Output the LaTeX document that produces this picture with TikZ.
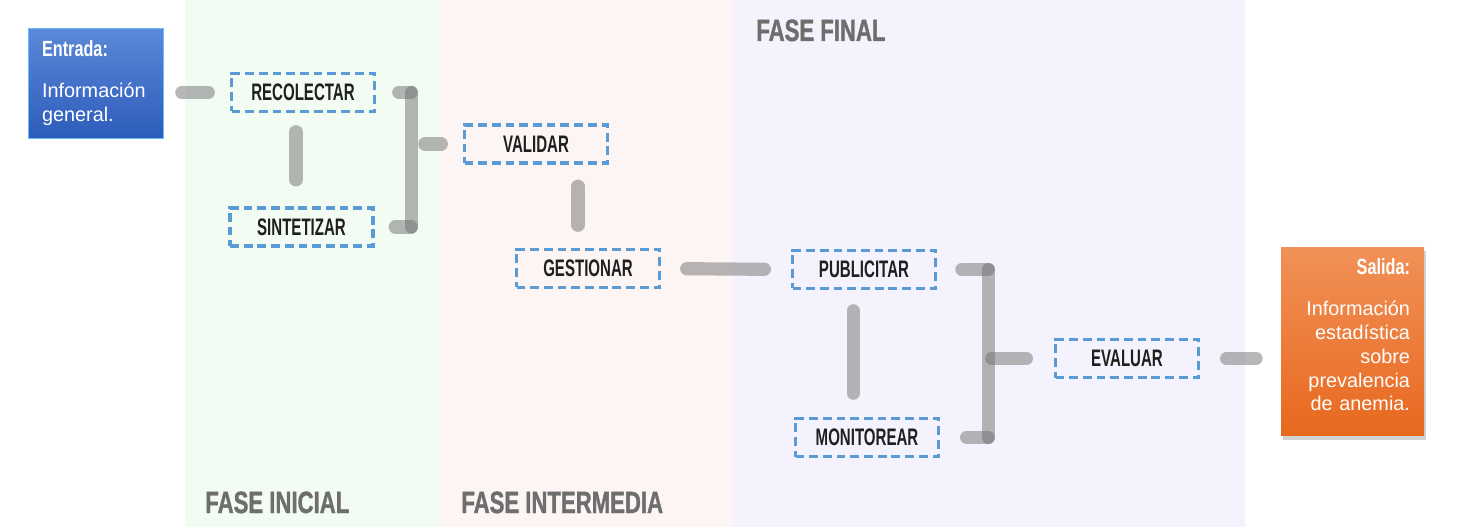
\documentclass[tikz,border=0pt]{standalone}
\usepackage{fontspec}
\setmainfont{Liberation Sans}
\newfontfamily\condfont[FakeStretch=0.63]{Liberation Sans}
\newfontfamily\titfont[FakeStretch=0.74]{Liberation Sans}
\newfontfamily\fasefont[FakeStretch=0.72, FakeBold=1.2]{Liberation Sans}
\usetikzlibrary{positioning,calc,shadows}

\definecolor{azulguion}{HTML}{5B9BD5}
\definecolor{grisfase}{HTML}{6E6E6E}
\definecolor{grisconector}{HTML}{707070}
\definecolor{verdefase}{HTML}{F3FCF3}
\definecolor{rosafase}{HTML}{FDF5F4}
\definecolor{lilafase}{HTML}{F4F3FD}

\begin{document}
\begin{tikzpicture}[
    x=0.02cm, y=-0.02cm,
    font=\fontsize{11.3}{13.6}\selectfont,
    paso/.style={draw=azulguion, line width=2pt, dash pattern=on 5pt off 2.8pt,
                 minimum width=2.86cm, minimum height=0.76cm, inner sep=0pt,
                 font=\condfont\bfseries\fontsize{13.6}{15}\selectfont, text=black!88},
    extremo/.style={text=white, inner xsep=0.28cm, inner ysep=0pt},
    fase/.style={anchor=base west, inner sep=0pt, text=grisfase,
                 font=\fasefont\bfseries\fontsize{17.5}{19}\selectfont},
    conector/.style={line width=7.5pt, line cap=round, draw=grisconector, draw opacity=0.5}
]
\useasboundingbox (0,0) rectangle (1466,527);

% franjas de las tres fases
\fill[verdefase] (185,0) rectangle (440,527);
\fill[rosafase]  (440,0) rectangle (733,527);
\fill[lilafase]  (733,0) rectangle (1245,527);

\node[fase] (fini) at (205,513) {FASE INICIAL};
\node[fase] (fint) at (461,513) {FASE INTERMEDIA};
\node[fase] (ffin) at (756,41)  {FASE FINAL};

% entrada y salida
\node[extremo, draw=blue!45!cyan!60, top color={rgb,255:red,92;green,136;blue,216},
      bottom color={rgb,255:red,45;green,92;blue,187},
      minimum width=2.7cm, minimum height=2.2cm, text width=2.14cm, align=left]
      (entrada) at (95.5,83)
      {{\titfont\bfseries\fontsize{12.5}{13.6}\selectfont Entrada:}\\[9.6pt]Informaci\'on\\general.};
\node[extremo, top color={rgb,255:red,241;green,145;blue,88},
      bottom color={rgb,255:red,232;green,104;blue,30},
      drop shadow={opacity=0.35, shadow xshift=1pt, shadow yshift=-2pt},
      minimum width=2.86cm, minimum height=3.78cm, text width=2.3cm, align=right]
      (salida) at (1352.5,341.5)
      {{\titfont\bfseries\fontsize{12.5}{13.6}\selectfont Salida:}\\[9.6pt]Informaci\'on\\estad\'istica\\sobre\\prevalencia\\de anemia.\\[-6pt]\mbox{}};

% pasos del proceso
\node[paso] (recolectar) at (303,92.5)  {RECOLECTAR};
\node[paso] (sintetizar) at (301.5,227) {SINTETIZAR};
\node[paso] (validar)    at (536,144)   {VALIDAR};
\node[paso] (gestionar)  at (588,268.5) {GESTIONAR};
\node[paso] (publicitar) at (864,269.5) {PUBLICITAR};
\node[paso] (monitorear) at (867,437.5) {MONITOREAR};
\node[paso] (evaluar)    at (1127,358.5) {EVALUAR};

% conectores de la fase inicial
\draw[conector, shorten <=10.5pt, shorten >=12.2pt] (entrada.east |- recolectar.west) -- (recolectar.west);
\coordinate (ejeRS) at ([xshift=-4pt]recolectar.south);
\draw[conector, shorten <=10.5pt, shorten >=15pt] (ejeRS) -- (ejeRS |- sintetizar.north);

% bus que junta recolectar y sintetizar hacia validar
\coordinate (businiA) at ($(recolectar.east)+(35,0)$);
\coordinate (businiB) at (businiA |- sintetizar.east);
\draw[conector, shorten <=12.8pt] (recolectar.east) -- (businiA);
\draw[conector, shorten <=11.7pt] (sintetizar.east) -- (businiB);
\draw[conector] (businiA) -- (businiB);
\draw[conector, shorten <=7.7pt, shorten >=12.2pt] (businiA |- validar.west) -- (validar.west);

% fase intermedia
\coordinate (ejeVG) at ([xshift=-5.7pt]gestionar.north);
\draw[conector, shorten <=12.2pt, shorten >=12.8pt] (validar.south -| ejeVG) -- (ejeVG);
\draw[conector, shorten <=14.5pt, shorten >=15pt] (gestionar.east) -- (publicitar.west);

% fase final
\coordinate (ejePM) at ([xshift=-6.2pt]publicitar.south);
\draw[conector, shorten <=11.7pt, shorten >=13.4pt] (ejePM) -- (ejePM |- monitorear.north);
\coordinate (busfinA) at ($(publicitar.east)+(51,0)$);
\coordinate (busfinB) at (busfinA |- monitorear.east);
\draw[conector, shorten <=14pt] (publicitar.east) -- (busfinA);
\draw[conector, shorten <=15pt] (monitorear.east) -- (busfinB);
\draw[conector] (busfinA) -- (busfinB);
\draw[conector, shorten <=2pt, shorten >=15.6pt] (busfinA |- evaluar.west) -- (evaluar.west);

% evaluar hacia la salida
\draw[conector, shorten <=15pt, shorten >=14pt] (evaluar.east) -- (evaluar.east -| salida.west);

\end{tikzpicture}
\end{document}
